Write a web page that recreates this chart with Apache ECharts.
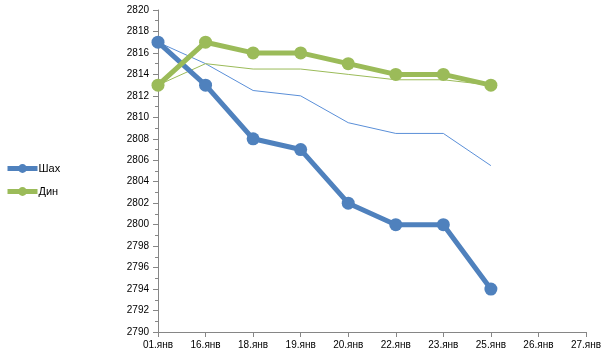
<!DOCTYPE html>
<html><head><meta charset="utf-8">
<script src="https://cdn.jsdelivr.net/npm/echarts@6/dist/echarts.min.js"></script>
<style>html,body{margin:0;padding:0;background:#fff}#c{width:608px;height:358px}</style>
</head><body><div id="c"></div>
<script>
const categories = ['01.янв','16.янв','18.янв','19.янв','20.янв','22.янв','23.янв','25.янв','26.янв','27.янв'];
const shakh = [2817, 2813, 2808, 2807, 2802, 2800, 2800, 2794];
const din = [2813, 2817, 2816, 2816, 2815, 2814, 2814, 2813];
const shakhThin = [2817, 2815, 2812.5, 2812, 2809.5, 2808.5, 2808.5, 2805.5];
const dinThin = [2813, 2815, 2814.5, 2814.5, 2814, 2813.5, 2813.5, 2813];
const yTicks = {min: 2790, max: 2820, interval: 2};

const font = 'Liberation Sans';
const chart = echarts.init(document.getElementById('c'));
chart.setOption({
  animation: false,
  textStyle: {fontFamily: font},
  grid: {left: 158, right: 22, top: 10, bottom: 26},
  legend: {
    orient: 'vertical', left: 0, top: 158, itemWidth: 30, itemHeight: 11, itemGap: 12,
    data: ['Шах', 'Дин'],
    lineStyle: {width: 5},
    textStyle: {fontFamily: font, fontSize: 11, color: '#000', padding: [0,0,0,-4]}
  },
  xAxis: {
    type: 'category', data: categories, boundaryGap: false,
    axisLine: {lineStyle: {color: '#868686'}},
    axisTick: {show: true, alignWithLabel: true, length: 5, lineStyle: {color: '#868686'}},
    axisLabel: {color: '#000', fontSize: 10, margin: 8, interval: 0},
    splitLine: {show: false}
  },
  yAxis: {
    type: 'value', min: yTicks.min, max: yTicks.max, interval: yTicks.interval,
    axisLine: {show: true, lineStyle: {color: '#868686'}},
    axisTick: {show: true, length: 5, lineStyle: {color: '#868686'}},
    minorTick: {show: true, splitNumber: 2, length: 3, lineStyle: {color: '#868686'}},
    axisLabel: {color: '#000', fontSize: 10, margin: 9, formatter: v => String(v)},
    splitLine: {show: false}
  },
  series: [
    {name: 'ШахThin', type: 'line', data: shakhThin, symbol: 'none', z: 1,
     lineStyle: {width: 1, color: '#5a8fd8'}, itemStyle: {color: '#5a8fd8'}},
    {name: 'ДинThin', type: 'line', data: dinThin, symbol: 'none', z: 1,
     lineStyle: {width: 1, color: '#9BBB59'}, itemStyle: {color: '#9BBB59'}},
    {name: 'Шах', type: 'line', data: shakh, symbol: 'circle', symbolSize: 13, z: 3,
     lineStyle: {width: 5, color: '#4F81BD'}, itemStyle: {color: '#4F81BD'}},
    {name: 'Дин', type: 'line', data: din, symbol: 'circle', symbolSize: 13, z: 3,
     lineStyle: {width: 5, color: '#9BBB59'}, itemStyle: {color: '#9BBB59'}}
  ]
});
</script></body></html>
